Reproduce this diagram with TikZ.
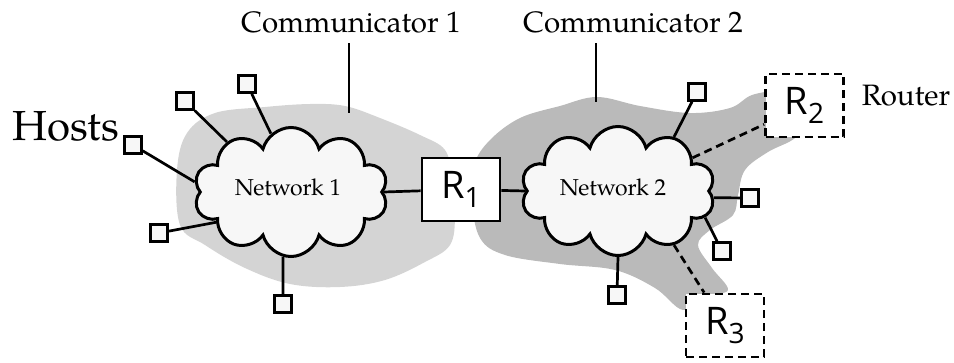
\documentclass[tikz,border=0pt]{standalone}
\usepackage{fontspec}
\setmainfont{TeX Gyre Pagella}
\newfontfamily\boxfont{Open Sans}
\usetikzlibrary{shapes.symbols}
\definecolor{lightblob}{gray}{0.83}
\definecolor{darkblob}{gray}{0.73}
\definecolor{paper}{gray}{0.97}
\newcommand{\rname}[1]{R\raisebox{-9pt}{\fontsize{28}{28}\selectfont #1}}
\tikzset{
  net/.style={cloud,cloud puffs=10,aspect=1.5,draw,line width=3pt,fill=paper,
    minimum width=194pt,minimum height=129pt,font=\fontsize{23}{25}\selectfont},
  host/.style={rectangle,draw,line width=2.6pt,fill=paper,minimum size=17pt,inner sep=0pt},
  router/.style={rectangle,draw,line width=2.8pt,fill=white,minimum width=78pt,
    minimum height=63pt,inner sep=0pt,font=\boxfont\fontsize{38}{40}\selectfont},
  gateway/.style={router,dash pattern=on 8pt off 5pt},
  link/.style={line width=2.7pt},
  tag/.style={anchor=base,font=\fontsize{29.5}{31}\selectfont}
}

\begin{document}
\begin{tikzpicture}[x=1pt,y=-1pt]
    \useasboundingbox (0,0) rectangle (954,362);

    % Shaded areas of the two communicators
    \fill[lightblob] plot[smooth cycle,tension=0.6] coordinates {
      (177,170) (187,133) (215,113) (265,107) (310,104) (345,106) (380,118)
      (420,135) (445,150) (452,178) (455,215) (450,245) (425,262) (385,280)
      (340,287) (290,284) (245,268) (205,245) (180,225)};
    \fill[darkblob] plot[smooth cycle,tension=0.6] coordinates {
      (474,165) (490,140) (520,118) (560,106) (597,97) (640,106) (690,113)
      (730,108) (752,95) (780,91) (803,96) (807,118) (795,138) (768,152)
      (745,170) (738,195) (733,215) (710,230) (698,245) (712,268) (728,290)
      (705,296) (683,310) (655,288) (615,270) (560,264) (505,255) (480,238)
      (472,200)};

    % Networks and routers
    \node[net] (net1) at (291,192) {};
    \node[net] (net2) at (618,191) {};
    \node[anchor=base,font=\fontsize{23}{25}\selectfont] (n1text) at (288,195) {Network 1};
    \node[anchor=base,font=\fontsize{23}{25}\selectfont] (n2text) at (613,195) {Network 2};
    \node[router]  (r1) at (461,189.5) {\rname{1}};
    \node[gateway] (r2) at (804.5,105.5) {\rname{2}};
    \node[gateway] (r3) at (725,325.5) {\rname{3}};

    % Hosts
    \node[host] (h1) at (247,84) {};
    \node[host] (h2) at (185,101) {};
    \node[host] (h3) at (133,145) {};
    \node[host] (h4) at (159,233) {};
    \node[host] (h5) at (283,304) {};
    \node[host] (h6) at (697,92) {};
    \node[host] (h7) at (750,198) {};
    \node[host] (h8) at (722,251) {};
    \node[host] (h9) at (617,295) {};

    % Links
    \draw[link] (h1) -- (net1.109);
    \draw[link] (h2) -- (net1.142);
    \draw[link] (h3) -- (net1.174);
    \draw[link] (h4) -- (net1.202);
    \draw[link] (h5) -- (net1.263);
    \draw[link] (net1.0) -- (r1);
    \draw[link] (r1) -- (net2.180);
    \draw[link] (h6) -- (net2.44);
    \draw[link] (h7) -- (net2.-4);
    \draw[link] (h8) -- (net2.-17);
    \draw[link] (h9) -- (net2.-90);
    \draw[link,dash pattern=on 8pt off 5pt] (net2.24) -- (r2);
    \draw[link,dash pattern=on 8pt off 5pt] (net2.-44) -- (r3);

    % Labels
    \node[tag] (c1) at (351,32) {Communicator 1};
    \node[tag] (c2) at (633,32) {Communicator 2};
    \node[tag] (rt) at (906,105) {Router};
    \node[anchor=base,font=\fontsize{42}{44}\selectfont] (hosts) at (66,140) {Hosts};
    \coordinate (c1end) at (349,113);
    \coordinate (c2end) at (596,102);
    \draw[link,shorten <=7pt] (c1end |- c1.south) -- (c1end);
    \draw[link,shorten <=7pt] (c2end |- c2.south) -- (c2end);
\end{tikzpicture}
\end{document}
